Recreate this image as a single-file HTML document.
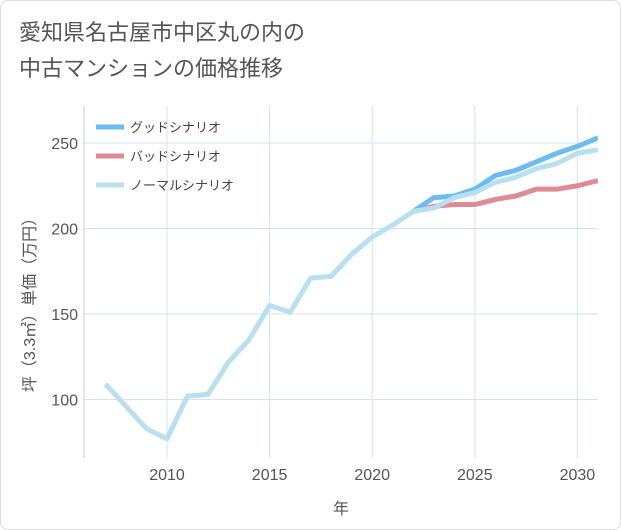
<!DOCTYPE html>
<html><head><meta charset="utf-8"><style>
body{margin:0;background:#fff;font-family:"Liberation Sans","Noto Sans CJK JP",sans-serif;}
#wrap{position:relative;width:619px;height:528px;border:1px solid #ddd;border-radius:8px;overflow:hidden;background:#fff;}
.title{position:absolute;left:18px;top:14px;font-size:22px;line-height:36px;color:#555;}
</style></head><body>
<div id="wrap">
<div class="title">愛知県名古屋市中区丸の内の<br>中古マンションの価格推移</div>
<svg id="chart" width="621" height="530" style="position:absolute;left:0;top:0"></svg>
</div>
<script>
const years=[2007,2008,2009,2010,2011,2012,2013,2014,2015,2016,2017,2018,2019,2020,2021,2022,2023,2024,2025,2026,2027,2028,2029,2030,2031];
const normalVals=[109,96,83,77,102,103,122,135,155,151,171,172,185,195,202,210,212,218,221,227,230,235,238,244,246];
const futureYears=[2022,2023,2024,2025,2026,2027,2028,2029,2030,2031];
const goodVals=[210,218,219,223,231,234,239,244,248,253];
const badVals=[210,213,214,214,217,219,223,223,225,228];
const xTicks=[2010,2015,2020,2025,2030];
const yTicks=[100,150,200,250];
const legendLabels=["グッドシナリオ","バッドシナリオ","ノーマルシナリオ"];
const legendColors=["#6bbcf0","#e08a94","#b8e0f0"];
const NS="http://www.w3.org/2000/svg";
const svg=document.getElementById('chart');
const L=83,R=597,T=105,B=457;
const x=v=>166+(v-2010)*20.52;
const y=v=>142+(250-v)*1.71;
function el(t,a){const e=document.createElementNS(NS,t);for(const k in a)e.setAttribute(k,a[k]);svg.appendChild(e);return e;}
for(const t of xTicks){const g=el('line',{x1:x(t),x2:x(t),y1:T,y2:B,stroke:'#d6e4ee','stroke-width':1});


const tx=el('text',{x:x(t),y:B+22,'text-anchor':'middle','font-size':16,fill:'#555'});tx.textContent=t;

}
for(const t of yTicks){const g=el('line',{x1:L,x2:R,y1:y(t),y2:y(t),stroke:'#d6e4ee','stroke-width':1});


const tx=el('text',{x:L-6,y:y(t)+6,'text-anchor':'end','font-size':16,fill:'#555'});tx.textContent=t;

}
const ax=el('line',{x1:L,x2:L,y1:T,y2:B,stroke:'#ccc'});


const xt=el('text',{x:340,y:513,'text-anchor':'middle','font-size':16,fill:'#555'});xt.textContent='年';


const yt=el('text',{x:0,y:0,'text-anchor':'middle','font-size':16,fill:'#555',transform:'translate(34,300) rotate(-90)'});yt.textContent='坪（3.3㎡）単価（万円）';


function line(xs,vs,c,n){const p=el('polyline',{points:xs.map((v,i)=>x(v)+','+y(vs[i])).join(' '),fill:'none',stroke:c,'stroke-width':5,'stroke-linejoin':'round'});

}
const cp=el('clipPath',{id:'c'});const cr=document.createElementNS(NS,'rect');cr.setAttribute('x',L);cr.setAttribute('y',T);cr.setAttribute('width',R-L);cr.setAttribute('height',B-T);cp.appendChild(cr);
line(futureYears,badVals,legendColors[1],'bad-scenario-line');
line(futureYears,goodVals,legendColors[0],'good-scenario-line');
line(years,normalVals,legendColors[2],'normal-scenario-line');
svg.querySelectorAll('polyline').forEach(p=>p.setAttribute('clip-path','url(#c)'));
legendLabels.forEach((s,i)=>{const ly=126+i*29;
const l=el('line',{x1:95,x2:123,y1:ly,y2:ly,stroke:legendColors[i],'stroke-width':5});


const t=el('text',{x:129,y:ly+5,'font-size':13,fill:'#444'});t.textContent=s;

});
</script>
</body></html>
